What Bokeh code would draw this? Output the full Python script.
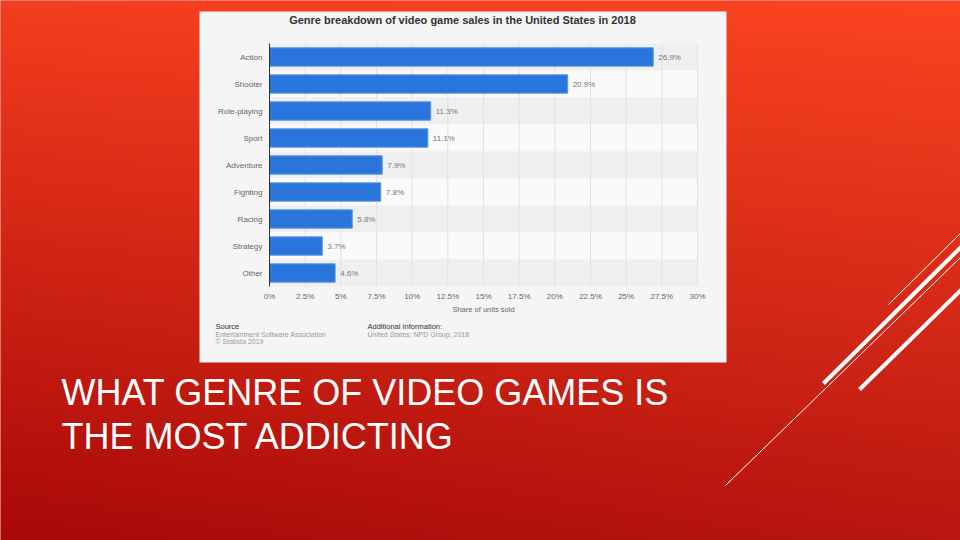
import numpy as np
from bokeh.plotting import figure
from bokeh.models import Range1d
from bokeh.embed import file_html
from bokeh.resources import INLINE
from bokeh.core.properties import value

# ---------------- data ----------------
categories = ["Action", "Shooter", "Role-playing", "Sport", "Adventure",
              "Fighting", "Racing", "Strategy", "Other"]
shares = [26.9, 20.9, 11.3, 11.1, 7.9, 7.8, 5.8, 3.7, 4.6]
tick_values = [0, 2.5, 5, 7.5, 10, 12.5, 15, 17.5, 20, 22.5, 25, 27.5, 30]
tick_labels = ["0%", "2.5%", "5%", "7.5%", "10%", "12.5%", "15%", "17.5%",
               "20%", "22.5%", "25%", "27.5%", "30%"]
chart_title = "Genre breakdown of video game sales in the United States in 2018"
x_title = "Share of units sold"
slide_title = ["WHAT GENRE OF VIDEO GAMES IS", "THE MOST ADDICTING"]
footer_left = ["Source", "Entertainment Software Association", "\u00a9 Statista 2019"]
footer_right = ["Additional Information:", "United States; NPD Group; 2018"]

# ---------------- geometry (page pixels) ----------------
W, H = 960, 540
FL, FR, FT, FB = 269, 697, 43, 286      # chart plot area on the page
X0, X1 = 0, 30
NROWS = len(categories)
FONT = "Liberation Sans"


def px(X):
    return X0 + (X - FL) * (X1 - X0) / (FR - FL)


def py(Y):
    return (FB - Y) * NROWS / (FB - FT)


p = figure(width=W, height=H, output_backend="svg", toolbar_location=None,
           x_range=Range1d(px(0), px(W)), y_range=Range1d(py(H), py(0)),
           x_axis_type=None, y_axis_type=None,
           min_border=0, min_border_left=0, min_border_right=0,
           min_border_top=0, min_border_bottom=0)
p.outline_line_color = None
p.xgrid.visible = False
p.ygrid.visible = False
p.background_fill_color = "#d02818"
p.border_fill_color = "#d02818"

# ---------------- slide background gradient ----------------
ROWS, COLS = 135, 240
tl, tr = np.array([243, 61, 30]), np.array([251, 68, 32])
bl, br = np.array([168, 8, 8]), np.array([184, 22, 16])
ty = np.linspace(0, 1, ROWS)[:, None, None]      # 0 top .. 1 bottom
tx = np.linspace(0, 1, COLS)[None, :, None]
rgb = (1 - ty) * ((1 - tx) * tl + tx * tr) + ty * ((1 - tx) * bl + tx * br)
rgb = np.clip(np.round(rgb), 0, 255).astype(np.uint32)
img = (255 << 24) | (rgb[..., 2] << 16) | (rgb[..., 1] << 8) | rgb[..., 0]
img = img[::-1].astype(np.uint32)                  # row 0 = bottom
p.image_rgba(image=[img], x=px(0), y=py(H), dw=px(W) - px(0), dh=py(0) - py(H))

# chart panel
p.quad(left=[px(199)], right=[px(726)], top=[py(11)], bottom=[py(362)],
       fill_color="#f5f5f5", line_color=None)

# ---------------- chart ----------------
row_y = [NROWS - 0.5 - i for i in range(NROWS)]
stripe_colors = ["#efefef" if i % 2 == 0 else "#fafafa" for i in range(NROWS)]
p.hbar(y=row_y, left=X0, right=X1, height=1, fill_color=stripe_colors, line_color=None)

# grid lines
p.segment(x0=tick_values, x1=tick_values, y0=0, y1=NROWS, line_color="#e2e2e2", line_width=1)

# bars
p.hbar(y=row_y, left=0, right=shares, height=0.68, fill_color="#2a75dc",
       line_color="#5a97e3", line_width=1)

# y axis line
p.segment(x0=[X0], x1=[X0], y0=[0], y1=[NROWS], line_color="#333333", line_width=1)

# value labels
p.text(x=shares, y=row_y, text=["%g%%" % v for v in shares], x_offset=5,
       text_baseline="middle", text_align="left", text_font_size="8px",
       text_color="#777777", text_font=value(FONT))

# category labels (y axis)
p.text(x=[X0] * NROWS, y=row_y, text=categories, x_offset=-7,
       text_baseline="middle", text_align="right", text_font_size="8px",
       text_color="#666666", text_font=value(FONT))

# x tick labels
p.text(x=tick_values, y=[0] * len(tick_values), text=tick_labels, y_offset=10,
       text_baseline="middle", text_align="center", text_font_size="8px",
       text_color="#666666", text_font=value(FONT))

# x axis title
p.text(x=[(X0 + X1) / 2], y=[0], text=[x_title], y_offset=23,
       text_baseline="middle", text_align="center", text_font_size="7.5px",
       text_color="#666666", text_font=value(FONT))

# chart title
p.text(x=[px(462)], y=[py(19)], text=[chart_title], text_baseline="middle",
       text_align="center", text_font_size="11px", text_font_style="bold",
       text_color="#333333", text_font=value(FONT))

# footer
p.text(x=[px(215)] * 3, y=[py(326), py(334), py(341)], text=footer_left,
       text_baseline="middle", text_align="left",
       text_font_size=["7.5px", "7px", "7px"],
       text_color=["#333333", "#9a9a9a", "#9a9a9a"], text_font=value(FONT))
p.text(x=[px(367)] * 2, y=[py(326), py(334)], text=footer_right,
       text_baseline="middle", text_align="left",
       text_font_size=["7.5px", "7px"],
       text_color=["#333333", "#9a9a9a"], text_font=value(FONT))

# slide title
p.text(x=[px(61)] * 2, y=[py(392), py(436)], text=slide_title,
       text_baseline="middle", text_align="left", text_font_size="36px",
       text_color="white", text_font=value(FONT))

# decorative lines
p.segment(x0=[px(888), px(725)], y0=[py(304), py(485)],
          x1=[px(962), px(962)], y1=[py(231), py(255)],
          line_color="white", line_width=1)
p.segment(x0=[px(823), px(859)], y0=[py(383), py(389)],
          x1=[px(962), px(962)], y1=[py(245), py(288)],
          line_color="white", line_width=4)

open("out.html", "w").write(file_html(p, INLINE))
